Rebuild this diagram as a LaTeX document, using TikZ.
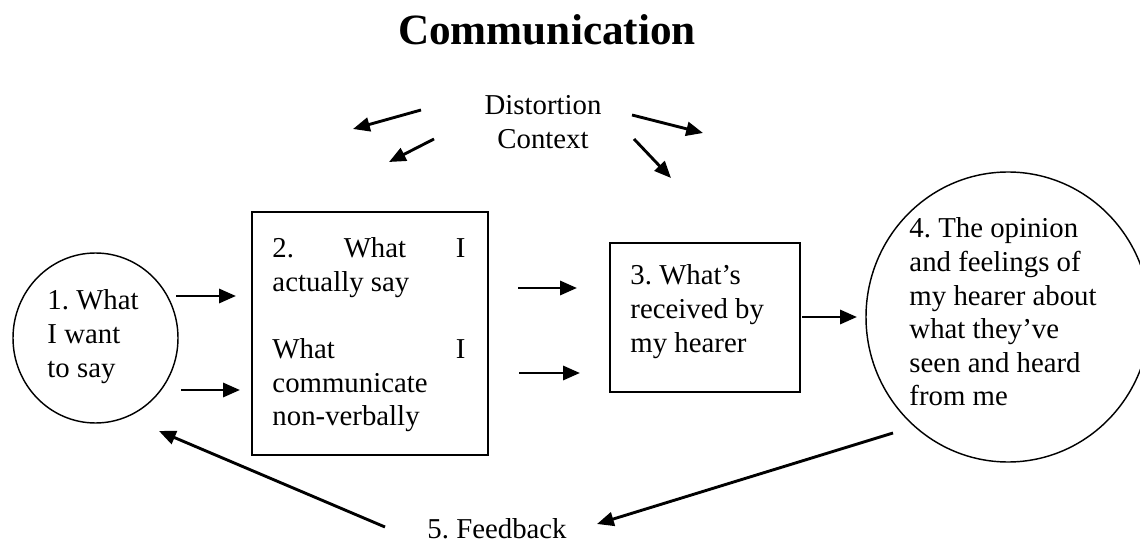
\documentclass[tikz,border=0pt]{standalone}
\usepackage{fontspec}
\setmainfont{Liberation Serif}
\usetikzlibrary{arrows.meta,shapes.geometric}
% one drawing unit of this picture, as a length
\newcommand\pxu{0.416667pt}
\begin{document}
\frenchspacing
\begin{tikzpicture}[x=0.416667pt,y=-0.416667pt,
  outline/.style={draw, line width=0.6pt, inner sep=0pt},
  arr/.style={line width=1.2pt, -{Triangle[length=7pt,width=5.8pt]}},
  txt/.style={inner sep=0pt, anchor=base west, font=\fontsize{12}{14}\selectfont},
]
\useasboundingbox (0,0) rectangle (1140,542);

% title
\node[inner sep=0pt, anchor=base, font=\fontsize{18}{21}\selectfont\bfseries] (title) at (547,45) {Communication};

% shapes
\node[outline, ellipse, minimum width=165*\pxu, minimum height=170*\pxu] (c1) at (95.5,338) {};
\node[outline, minimum width=236*\pxu, minimum height=243*\pxu] (box2) at (370,333.5) {};
\node[outline, minimum width=190*\pxu, minimum height=149*\pxu] (box3) at (705,317.5) {};
\node[outline, ellipse, minimum width=284*\pxu, minimum height=290*\pxu] (c4) at (1008,317) {};

% texts
\node[txt, anchor=base] (dist) at (543,115) {\parbox[t]{70pt}{\centering Distortion\\Context}};
\node[txt] (t1) at (47,310) {\parbox[t]{50pt}{1. What\\I want\\to say}};
\node[txt] (t2) at (272,258) {\parbox[t]{80.4pt}{2.\hfill What\hfill I\\actually say\\\mbox{}\\What\hfill I\\communicate\\non-verbally}};
\node[txt] (t3) at (630,285) {\parbox[t]{70pt}{3. What’s\\received by\\my hearer}};
\node[txt] (t4) at (909,238) {\parbox[t]{90pt}{4. The opinion\\and feelings of\\my hearer about\\what they’ve\\seen and heard\\from me}};
\node[txt] (fb) at (427,538) {5. Feedback};

% arrow end points
\coordinate (d1s) at (421,110); \coordinate (d1e) at (353,129);
\coordinate (d2s) at (434,139); \coordinate (d2e) at (389,162);
\coordinate (d3s) at (632,115); \coordinate (d3e) at (703,133);
\coordinate (d4s) at (634,139); \coordinate (d4e) at (671,178);
\coordinate (p1s) at (176,296); \coordinate (p1e) at (236,296);
\coordinate (p2s) at (181,390); \coordinate (p2e) at (240,390);
\coordinate (q1s) at (518,288); \coordinate (q1e) at (577,288);
\coordinate (q2s) at (519,373); \coordinate (q2e) at (580,373);
\coordinate (r1s) at (802,317); \coordinate (r1e) at (857,317);
\coordinate (f1s) at (893,433); \coordinate (f1e) at (597,524);
\coordinate (f2s) at (385,527); \coordinate (f2e) at (159,431);

% arrows
\draw[arr] (d1s) -- (d1e);
\draw[arr] (d2s) -- (d2e);
\draw[arr] (d3s) -- (d3e);
\draw[arr] (d4s) -- (d4e);
\draw[arr] (p1s) -- (p1e);
\draw[arr] (p2s) -- (p2e);
\draw[arr] (q1s) -- (q1e);
\draw[arr] (q2s) -- (q2e);
\draw[arr] (r1s) -- (r1e);
\draw[arr] (f1s) -- (f1e);
\draw[arr] (f2s) -- (f2e);
\end{tikzpicture}
\end{document}
